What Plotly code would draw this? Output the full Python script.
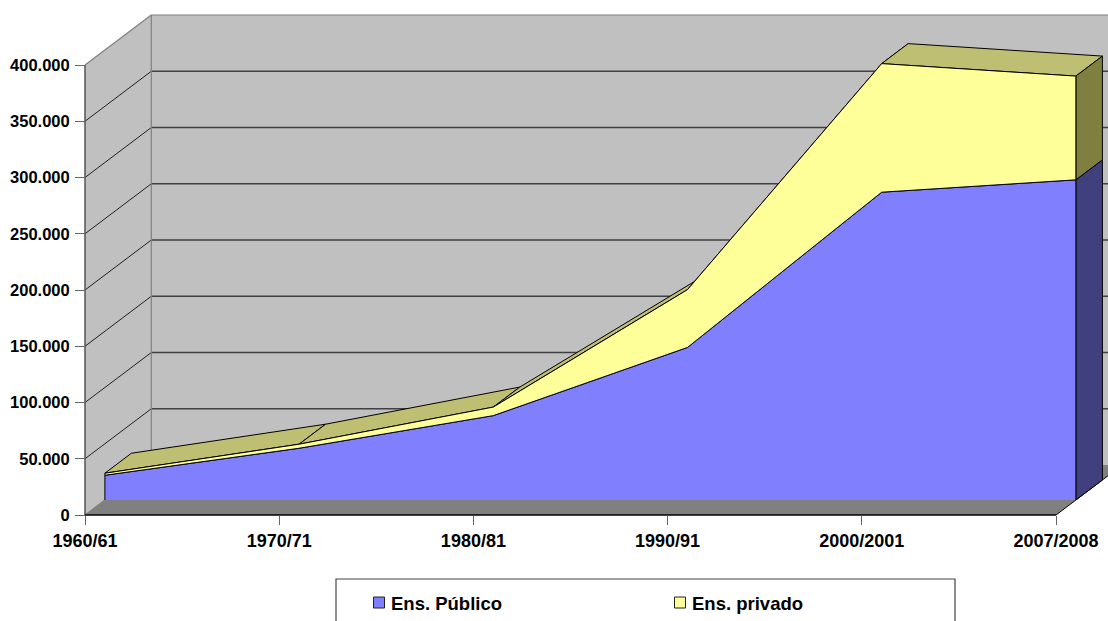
import plotly.graph_objects as go

# --- data ---
categories = ["1960/61", "1970/71", "1980/81", "1990/91", "2000/2001", "2007/2008"]
publico = [22000, 46000, 75000, 135600, 273600, 284600]
privado = [1800, 3600, 7600, 51400, 114300, 92200]
y_ticks = [0, 50000, 100000, 150000, 200000, 250000, 300000, 350000, 400000]
y_labels = ["0", "50.000", "100.000", "150.000", "200.000", "250.000", "300.000", "350.000", "400.000"]

# --- oblique projection of the 3-D box, in axis units ---
W, H = 1108, 621
L, R, T, B = 85, 1056, 65, 515
n = len(categories)
end = n - 1
top = y_ticks[-1]
PX_PER_CAT = (R - L) / end
PX_PER_VAL = (B - T) / top
DX = 66.3 / PX_PER_CAT               # full depth, category units
DY = 50 / PX_PER_VAL                 # full depth, value units
FRONT, BACK = 0.3, 0.7
total = [a + b for a, b in zip(publico, privado)]
GRID = "#404040"
EDGE = "#808080"


def P(i, v, d):
    return i + d * DX, v + d * DY


def poly(points, fill=None, line=None, width=1):
    xs, ys = zip(*points)
    kw = dict(x=list(xs), y=list(ys), mode="lines", hoverinfo="skip", showlegend=False)
    kw["line"] = dict(color=line or "rgba(0,0,0,0)", width=width if line else 0)
    if fill:
        kw["fill"] = "toself"
        kw["fillcolor"] = fill
    return go.Scatter(**kw)


fig = go.Figure()

# walls and floor
fig.add_trace(poly([P(0, 0, 1), P(0, top, 1), P(end, top, 1), P(end, 0, 1)], fill="#C0C0C0"))
fig.add_trace(poly([P(0, 0, 0), P(0, top, 0), P(0, top, 1), P(0, 0, 1)], fill="#C0C0C0"))
fig.add_trace(poly([P(0, 0, 0), P(end, 0, 0), P(end, 0, 1), P(0, 0, 1)], fill="#808080"))

# gridlines across the side wall and the back wall
for t in y_ticks[1:-1]:
    fig.add_trace(poly([P(0, t, 0), P(0, t, 1)], line="#202020"))
    fig.add_trace(poly([P(0, t, 1), P(end, t, 1)], line=GRID, width=1.4))

# box edges
fig.add_trace(poly([P(0, 0, 0), P(0, 0, 1), P(0, top, 1), P(0, top, 0)], line=EDGE, width=1.2))
fig.add_trace(poly([P(0, top, 1), P(end, top, 1)], line=EDGE, width=1.2))
fig.add_trace(poly([P(end, 0, 0), P(end, 0, 1)], line="#000000"))
fig.add_trace(poly([P(0, 0, 0), P(0, top, 0)], line="#555555", width=1.5))

# top surfaces of the private series, back to front
for i in range(n - 1):
    fig.add_trace(poly([P(i, total[i], FRONT), P(i + 1, total[i + 1], FRONT),
                        P(i + 1, total[i + 1], BACK), P(i, total[i], BACK),
                        P(i, total[i], FRONT)], fill="#BFBF73", line="#000000"))

# right-hand end faces
fig.add_trace(poly([P(end, 0, FRONT), P(end, publico[end], FRONT), P(end, publico[end], BACK),
                    P(end, 0, BACK), P(end, 0, FRONT)], fill="#40407F", line="#000000"))
fig.add_trace(poly([P(end, publico[end], FRONT), P(end, total[end], FRONT), P(end, total[end], BACK),
                    P(end, publico[end], BACK), P(end, publico[end], FRONT)], fill="#7F7F40", line="#000000"))

# front faces
idx = list(range(n))
fig.add_trace(poly([P(0, 0, FRONT)] + [P(i, publico[i], FRONT) for i in idx] + [P(end, 0, FRONT)],
                   fill="#8080FF", line="#000000"))
fig.add_trace(poly([P(i, total[i], FRONT) for i in idx] +
                   [P(i, publico[i], FRONT) for i in reversed(idx)] + [P(0, total[0], FRONT)],
                   fill="#FFFF99", line="#000000"))

# front bottom edge
fig.add_trace(poly([P(0, 0, 0), P(end, 0, 0)], line="#000000", width=1.5))

# legend entries
for name, colour in [("Ens. Público", "#8080FF"), ("Ens. privado", "#FFFF99")]:
    fig.add_trace(go.Scatter(x=[None], y=[None], mode="markers", name=name, hoverinfo="skip",
                             marker=dict(symbol="square", size=11, color=colour,
                                         line=dict(color="#222222", width=1))))

font = dict(family="Liberation Sans", size=16.5, color="#000000", weight=700)

fig.update_layout(
    width=W, height=H, autosize=False,
    margin=dict(l=0, r=0, t=0, b=0, pad=0, autoexpand=False),
    paper_bgcolor="#FFFFFF", plot_bgcolor="#FFFFFF",
    xaxis=dict(range=[-L / PX_PER_CAT, (W - L) / PX_PER_CAT], domain=[0, 1],
               anchor="free", position=(H - B) / H,
               tickmode="array", tickvals=idx, ticktext=categories,
               showgrid=False, zeroline=False, showline=False,
               ticks="outside", ticklen=9, tickcolor="#666666", tickwidth=1.2,
               tickfont=dict(font, size=18), tickangle=0),
    yaxis=dict(range=[-(H - B) / PX_PER_VAL, B / PX_PER_VAL], domain=[0, 1],
               anchor="free", position=L / W,
               tickmode="array", tickvals=y_ticks, ticktext=y_labels,
               showgrid=False, zeroline=False, showline=False,
               ticks="outside", ticklen=10, tickcolor="#666666", tickwidth=1.2,
               ticklabelstandoff=2, tickfont=font),
    legend=dict(orientation="h", x=359 / W, y=1 - 584 / H, xanchor="left", yanchor="top",
                entrywidth=256, entrywidthmode="pixels", font=dict(font, size=18.5),
                bgcolor="rgba(0,0,0,0)", itemclick=False, itemdoubleclick=False),
    shapes=[dict(type="rect", xref="paper", yref="paper",
                 x0=336 / W, x1=955 / W, y0=1 - 660 / H, y1=1 - 579 / H,
                 line=dict(color="#444444", width=1.2), fillcolor="rgba(0,0,0,0)")],
)

fig.write_html("out.html", config={"displayModeBar": False},
               post_script=("document.body.style.margin='0';document.body.style.overflow='hidden';"
                            "document.querySelectorAll('.legendtext').forEach(function(t){"
                            "t.setAttribute('x',parseFloat(t.getAttribute('x'))-8);});"))
